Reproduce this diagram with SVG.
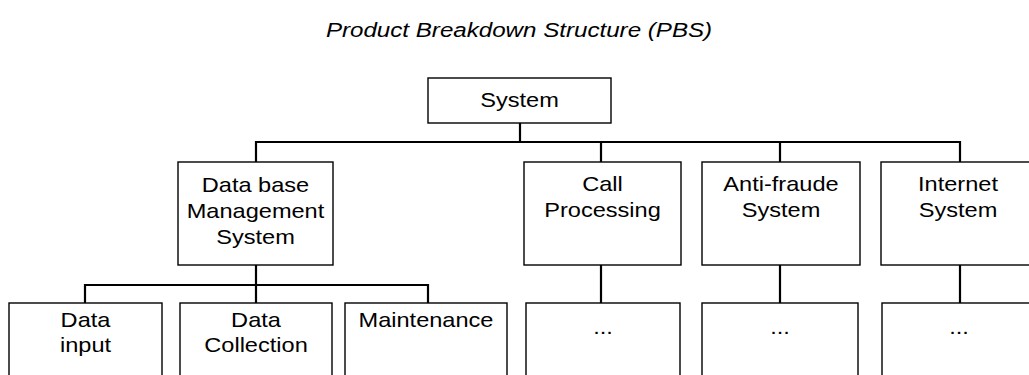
<svg xmlns="http://www.w3.org/2000/svg" width="1029" height="375" viewBox="0 0 1029 375">
  <style>
    .box { fill: #ffffff; stroke: #000000; stroke-width: 1.4; }
    .wire { fill: none; stroke: #000000; stroke-width: 2.2; stroke-linecap: square; }
    .lbl { font-family: "Liberation Sans", Arial, sans-serif; font-size: 20.5px; fill: #000000; text-anchor: middle; }
    .title { font-family: "Liberation Sans", Arial, sans-serif; font-size: 21px; font-style: italic; fill: #000000; text-anchor: middle; }
  </style>

  <rect x="0" y="0" width="1029" height="375" fill="#ffffff"/>

  <text class="title" transform="translate(519,37) scale(1.15,1)">Product Breakdown Structure (PBS)</text>

  <!-- connectors -->
  <g id="connectors">
    <path class="wire" d="M520 123 V142 M256 142 H960 M256 142 V162 M601 142 V162 M780 142 V162 M960 142 V162"/>
    <path class="wire" d="M256 265 V285 M85 285 H428 M85 285 V303 M256 285 V303 M428 285 V303"/>
    <path class="wire" d="M601 265 V303 M780 265 V303 M960 265 V303"/>
  </g>

  <!-- root -->
  <g id="system">
    <rect class="box" x="428" y="78" width="183" height="45"/>
    <text class="lbl" transform="translate(519.5,107) scale(1.15,1)">System</text>
  </g>

  <!-- second level -->
  <g id="dbms">
    <rect class="box" x="178" y="162" width="155" height="103"/>
    <text class="lbl" transform="translate(255.5,192) scale(1.15,1)">Data base</text>
    <text class="lbl" transform="translate(255.5,218) scale(1.15,1)">Management</text>
    <text class="lbl" transform="translate(255.5,244) scale(1.15,1)">System</text>
  </g>
  <g id="call-processing">
    <rect class="box" x="524" y="162" width="157" height="103"/>
    <text class="lbl" transform="translate(602.5,191) scale(1.15,1)">Call</text>
    <text class="lbl" transform="translate(602.5,217) scale(1.15,1)">Processing</text>
  </g>
  <g id="anti-fraude">
    <rect class="box" x="702" y="162" width="158" height="103"/>
    <text class="lbl" transform="translate(781,191) scale(1.15,1)">Anti-fraude</text>
    <text class="lbl" transform="translate(781,217) scale(1.15,1)">System</text>
  </g>
  <g id="internet">
    <rect class="box" x="881" y="162" width="156" height="103"/>
    <text class="lbl" transform="translate(958,191) scale(1.15,1)">Internet</text>
    <text class="lbl" transform="translate(958,217) scale(1.15,1)">System</text>
  </g>

  <!-- third level -->
  <g id="data-input">
    <rect class="box" x="9" y="303" width="153" height="100"/>
    <text class="lbl" transform="translate(85.5,327) scale(1.15,1)">Data</text>
    <text class="lbl" transform="translate(85.5,352) scale(1.15,1)">input</text>
  </g>
  <g id="data-collection">
    <rect class="box" x="180" y="303" width="152" height="100"/>
    <text class="lbl" transform="translate(256,327) scale(1.15,1)">Data</text>
    <text class="lbl" transform="translate(256,352) scale(1.15,1)">Collection</text>
  </g>
  <g id="maintenance">
    <rect class="box" x="345" y="303" width="162" height="100"/>
    <text class="lbl" transform="translate(426,327) scale(1.15,1)">Maintenance</text>
  </g>
  <g id="call-sub">
    <rect class="box" x="526" y="303" width="154" height="100"/>
    <text class="lbl" transform="translate(603,334) scale(1.15,1)">...</text>
  </g>
  <g id="anti-fraude-sub">
    <rect class="box" x="702" y="303" width="156" height="100"/>
    <text class="lbl" transform="translate(780,334) scale(1.15,1)">...</text>
  </g>
  <g id="internet-sub">
    <rect class="box" x="882" y="303" width="155" height="100"/>
    <text class="lbl" transform="translate(959,334) scale(1.15,1)">...</text>
  </g>
</svg>
